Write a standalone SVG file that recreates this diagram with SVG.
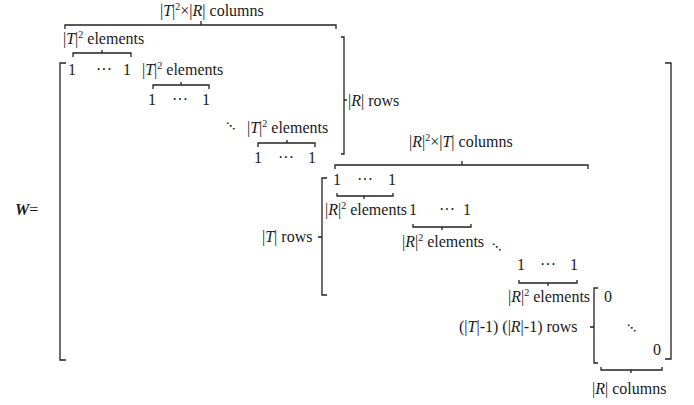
<svg xmlns="http://www.w3.org/2000/svg" width="694" height="405" viewBox="0 0 694 405">
<style>
text{font-family:"Liberation Serif","Times New Roman","DejaVu Serif",serif;font-size:16px;fill:#1a1a1a}
.i{font-style:italic}
.s{font-size:10px}
.dots{font-family:"DejaVu Sans",sans-serif;font-size:9px;font-weight:bold}
.ln{fill:none;stroke:#222;stroke-width:1.3}
</style>
<rect width="694" height="405" fill="#fff"/>
<g id="brackets" class="ln">
<path d="M66,63H60V360H66"/>
<path d="M665,63H671V359H665"/>
<path d="M341,37H344V154H341M344,100H347"/>
<path d="M327,178H322V295H327M322,237H318"/>
<path d="M598,288H594V363H598M594,327H590"/>
</g>
<g id="braces" class="ln">
<path d="M65,29V25H336V29M201,25V21"/>
<path d="M73,57V53H131V57M102,53V50"/>
<path d="M153,89V85H209V89M181,85V82"/>
<path d="M258,147V143H315V147M287,143V140"/>
<path d="M335,169V165H588V169M462,165V161"/>
<path d="M337,193V196H393V193M364,196V199"/>
<path d="M413,224V227H471V224M442,227V230"/>
<path d="M519,280V283H577V280M548,283V286"/>
<path d="M601,367V370H662V367M631,370V373"/>
</g>
<g id="label-W"><text x="15" y="215"><tspan font-weight="bold" class="i">W</tspan>=</text></g>
<g id="top-columns"><text x="160" y="16">|<tspan class="i">T</tspan>|<tspan class="s" dy="-6">2</tspan><tspan dy="6">×|</tspan><tspan class="i">R</tspan>| columns</text></g>
<g id="block1-row1">
<text x="63" y="44">|<tspan class="i">T</tspan>|<tspan class="s" dy="-6">2</tspan><tspan dy="6"> elements</tspan></text>
<text x="68" y="75">1</text><text x="96" y="75">···</text><text x="123" y="75">1</text>
</g>
<g id="block1-row2">
<text x="142" y="75">|<tspan class="i">T</tspan>|<tspan class="s" dy="-6">2</tspan><tspan dy="6"> elements</tspan></text>
<text x="148" y="105">1</text><text x="172" y="105">···</text><text x="202" y="105">1</text>
</g>
<g id="block1-dots"><text class="dots" x="226" y="129">⋱</text></g>
<g id="block1-row3">
<text x="247" y="133">|<tspan class="i">T</tspan>|<tspan class="s" dy="-6">2</tspan><tspan dy="6"> elements</tspan></text>
<text x="254" y="163">1</text><text x="278" y="163">···</text><text x="308" y="163">1</text>
</g>
<g id="label-R-rows"><text x="348" y="106">|<tspan class="i">R</tspan>| rows</text></g>
<g id="mid-columns"><text x="409" y="147">|<tspan class="i">R</tspan>|<tspan class="s" dy="-6">2</tspan><tspan dy="6">×|</tspan><tspan class="i">T</tspan>| columns</text></g>
<g id="block2-row1">
<text x="333" y="185">1</text><text x="357" y="185">···</text><text x="388" y="185">1</text>
<text x="325" y="215">|<tspan class="i">R</tspan>|<tspan class="s" dy="-6">2</tspan><tspan dy="6"> elements</tspan></text>
</g>
<g id="block2-row2">
<text x="409" y="215">1</text><text x="439" y="215">···</text><text x="463" y="215">1</text>
<text x="402" y="247">|<tspan class="i">R</tspan>|<tspan class="s" dy="-6">2</tspan><tspan dy="6"> elements</tspan></text>
</g>
<g id="block2-dots"><text class="dots" x="492" y="250">⋱</text></g>
<g id="label-T-rows"><text x="262" y="242">|<tspan class="i">T</tspan>| rows</text></g>
<g id="block2-row3">
<text x="517" y="270">1</text><text x="540" y="270">···</text><text x="570" y="270">1</text>
<text x="508" y="302">|<tspan class="i">R</tspan>|<tspan class="s" dy="-6">2</tspan><tspan dy="6"> elements</tspan></text>
</g>
<g id="block3">
<text x="604" y="302">0</text>
<text class="dots" x="627" y="331">⋱</text>
<text x="653" y="355">0</text>
</g>
<g id="label-zero-rows"><text x="459" y="332">(|<tspan class="i">T</tspan>|-1) (|<tspan class="i">R</tspan>|-1) rows</text></g>
<g id="label-R-columns"><text x="592" y="394">|<tspan class="i">R</tspan>| columns</text></g>
</svg>
